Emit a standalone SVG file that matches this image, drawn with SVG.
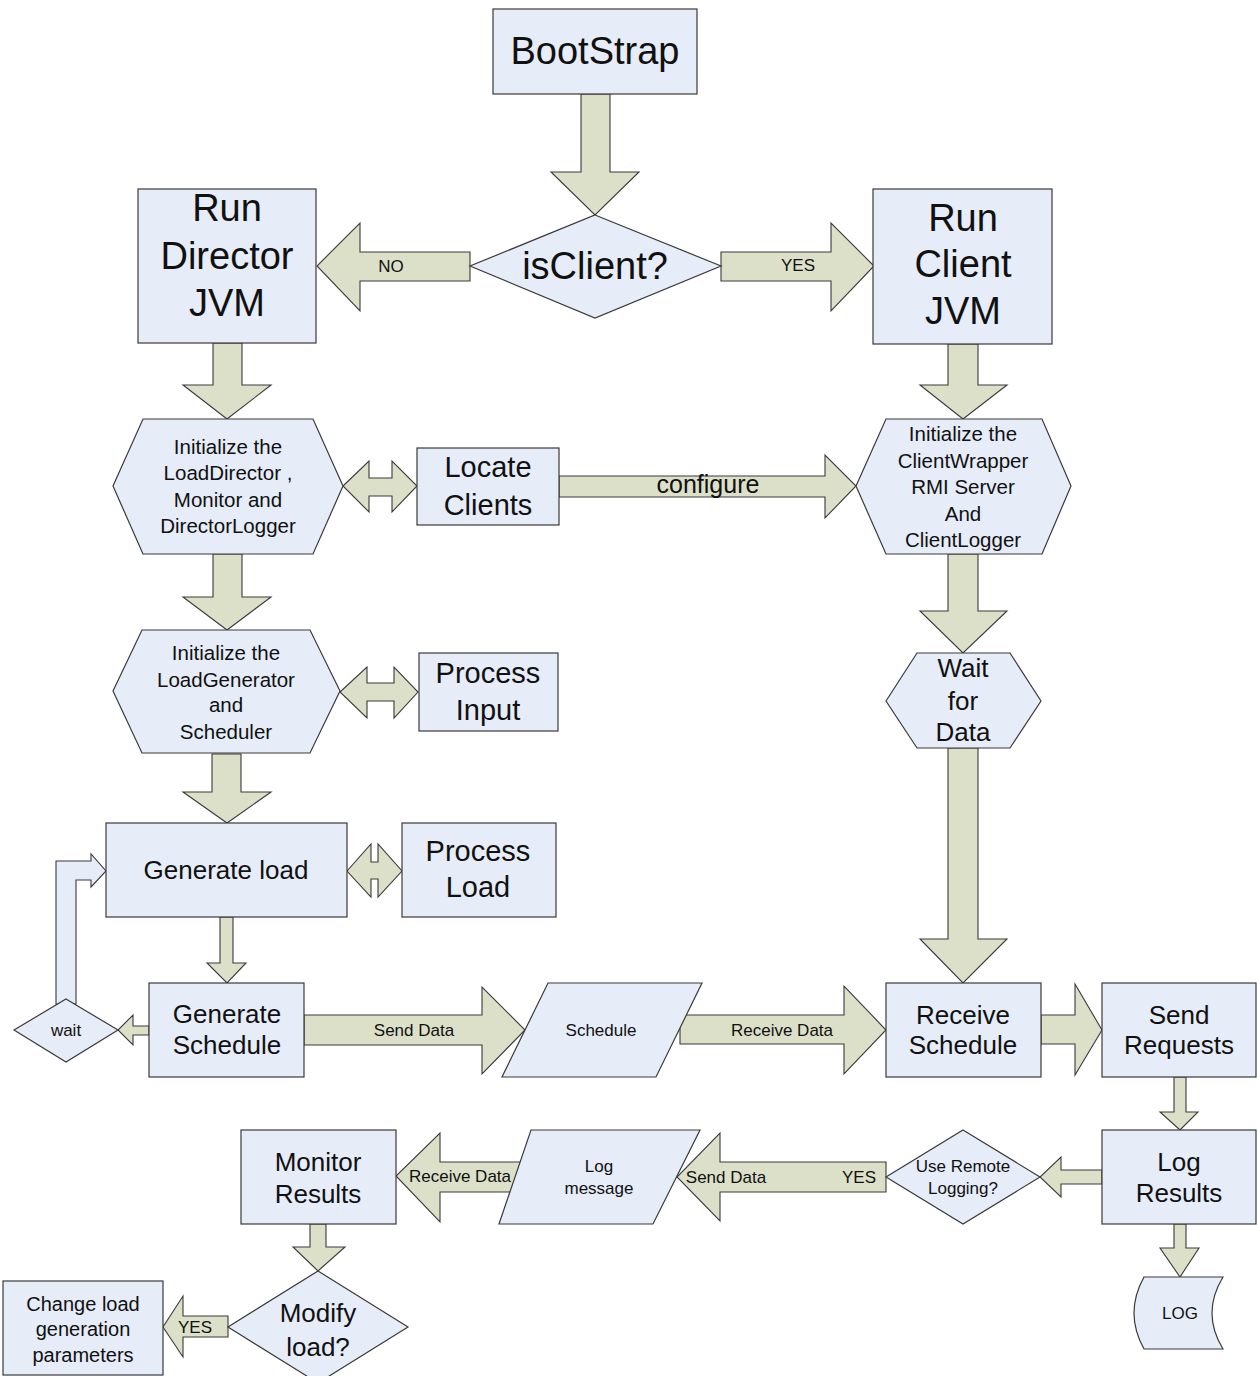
<svg xmlns="http://www.w3.org/2000/svg" width="1257" height="1376" viewBox="0 0 1257 1376">
  <style>
    .node { fill: #E6ECF8; stroke: #3a3a3a; stroke-width: 1.2; }
    .arrow { fill: #DCE0C9; stroke: #3a3a3a; stroke-width: 1.1; stroke-linejoin: miter; }
    .loop { fill: #E6ECF8; stroke: #3a3a3a; stroke-width: 1.1; }
    text { font-family: "Liberation Sans", Arial, sans-serif; fill: #111; text-anchor: middle; dominant-baseline: central; }
    .xl { font-size: 38px; }
    .l { font-size: 29px; }
    .m { font-size: 26px; }
    .hx { font-size: 20.5px; }
    .s { font-size: 17px; }
  </style>
  <rect width="1257" height="1376" fill="#ffffff"/>

  <!-- block arrows between steps -->
  <g id="connectors">
    <!-- BootStrap -> isClient? -->
    <polygon class="arrow" points="581,94 610,94 610,172 639,172 595,215 551,172 581,172"/>
    <!-- isClient? NO -> Run Director JVM -->
    <polygon class="arrow" points="470,252 360,252 360,223 317,266 360,311 360,281 470,281"/>
    <!-- isClient? YES -> Run Client JVM -->
    <polygon class="arrow" points="721,252 831,252 831,223 874,266 831,311 831,281 721,281"/>
    <!-- Run Director JVM -> init LoadDirector -->
    <polygon class="arrow" points="213,343 242,343 242,385 271,385 227,419 183,385 213,385"/>
    <!-- Run Client JVM -> init ClientWrapper -->
    <polygon class="arrow" points="948,344 978,344 978,385 1007,385 963,419 920,385 948,385"/>
    <!-- init LoadDirector <-> Locate Clients -->
    <polygon class="arrow" points="343,486 369,461 369,478 392,478 392,461 417,486 392,512 392,496 369,496 369,512"/>
    <!-- Locate Clients -> ClientWrapper (configure) -->
    <polygon class="arrow" points="559,476 825,476 825,455 856,486 825,518 825,497 559,497"/>
    <!-- init LoadDirector -> init LoadGenerator -->
    <polygon class="arrow" points="213,554 242,554 242,597 271,597 227,630 183,597 213,597"/>
    <!-- init ClientWrapper -> Wait for Data -->
    <polygon class="arrow" points="948,554 978,554 978,611 1007,611 963,653 920,611 948,611"/>
    <!-- init LoadGenerator <-> Process Input -->
    <polygon class="arrow" points="340,692 367,667 367,683 394,683 394,667 418,692 394,718 394,701 367,701 367,718"/>
    <!-- init LoadGenerator -> Generate load -->
    <polygon class="arrow" points="212,754 241,754 241,792 271,792 227,823 183,792 212,792"/>
    <!-- Generate load <-> Process Load -->
    <polygon class="arrow" points="347,871 371,844 371,862 378,862 378,844 402,871 378,897 378,879 371,879 371,897"/>
    <!-- Generate load -> Generate Schedule -->
    <polygon class="arrow" points="220,917 233,917 233,963 246,963 227,983 207,963 220,963"/>
    <!-- wait -> Generate load (loop back) -->
    <polygon class="loop" points="56,1004 56,861 91,861 91,854 106,871 91,887 91,880 76,880 76,1004"/>
    <!-- Generate Schedule -> wait -->
    <polygon class="arrow" points="149,1026 133,1026 133,1015 118,1030 133,1045 133,1035 149,1035"/>
    <!-- Generate Schedule -> Schedule (Send Data) -->
    <polygon class="arrow" points="304,1015 482,1015 482,987 525,1030 482,1074 482,1045 304,1045"/>
    <!-- Schedule -> Receive Schedule (Receive Data) -->
    <polygon class="arrow" points="680,1015 844,1015 844,986 886,1030 844,1074 844,1044 680,1044"/>
    <!-- Wait for Data -> Receive Schedule -->
    <polygon class="arrow" points="948,748 978,748 978,939 1007,939 963,983 920,939 948,939"/>
    <!-- Receive Schedule -> Send Requests -->
    <polygon class="arrow" points="1041,1015 1075,1015 1075,984 1102,1030 1075,1075 1075,1044 1041,1044"/>
    <!-- Send Requests -> Log Results -->
    <polygon class="arrow" points="1174,1077 1186,1077 1186,1112 1198,1112 1180,1130 1160,1112 1174,1112"/>
    <!-- Log Results -> Use Remote Logging? -->
    <polygon class="arrow" points="1102,1170 1061,1170 1061,1157 1040,1177 1061,1197 1061,1184 1102,1184"/>
    <!-- Use Remote Logging? YES -> Log message (Send Data) -->
    <polygon class="arrow" points="886,1162 720,1162 720,1133 677,1177 720,1221 720,1192 886,1192"/>
    <!-- Log message -> Monitor Results (Receive Data) -->
    <polygon class="arrow" points="522,1162 440,1162 440,1133 396,1176 440,1222 440,1192 522,1192"/>
    <!-- Log Results -> LOG -->
    <polygon class="arrow" points="1174,1224 1186,1224 1186,1248 1199,1248 1180,1277 1160,1248 1174,1248"/>
    <!-- Monitor Results -> Modify load? -->
    <polygon class="arrow" points="310,1224 326,1224 326,1247 345,1247 318,1271 293,1247 310,1247"/>
    <!-- Modify load? YES -> Change load generation parameters -->
    <polygon class="arrow" points="228,1316 183,1316 183,1296 163,1327 183,1357 183,1337 228,1337"/>

    <text class="s" x="391" y="266">NO</text>
    <text class="s" x="798" y="265">YES</text>
    <text x="708" y="484" style="font-size:25px">configure</text>
    <text class="s" x="414" y="1030">Send Data</text>
    <text class="s" x="782" y="1030">Receive Data</text>
    <text class="s" x="726" y="1177">Send Data</text>
    <text class="s" x="859" y="1177">YES</text>
    <text class="s" x="460" y="1176">Receive Data</text>
    <text class="s" x="195" y="1327">YES</text>
  </g>

  <g id="bootstrap">
    <rect class="node" x="493" y="9" width="204" height="85"/>
    <text class="xl" x="595" y="51">BootStrap</text>
  </g>

  <g id="is-client">
    <polygon class="node" points="595,215 721,266 595,318 470,266"/>
    <text class="xl" x="595" y="266">isClient?</text>
  </g>

  <g id="run-director">
    <rect class="node" x="138" y="189" width="178" height="154"/>
    <text class="xl" x="227" y="208">Run</text>
    <text class="xl" x="227" y="256">Director</text>
    <text class="xl" x="227" y="303">JVM</text>
  </g>

  <g id="run-client">
    <rect class="node" x="873" y="189" width="179" height="155"/>
    <text class="xl" x="963" y="218">Run</text>
    <text class="xl" x="963" y="264">Client</text>
    <text class="xl" x="963" y="311">JVM</text>
  </g>

  <g id="init-load-director">
    <polygon class="node" points="113,486 143,419 313,419 343,486 313,554 143,554"/>
    <text class="hx" x="228" y="446">Initialize the</text>
    <text class="hx" x="228" y="472">LoadDirector ,</text>
    <text class="hx" x="228" y="499">Monitor and</text>
    <text class="hx" x="228" y="525">DirectorLogger</text>
  </g>

  <g id="locate-clients">
    <rect class="node" x="417" y="448" width="142" height="77"/>
    <text class="l" x="488" y="467">Locate</text>
    <text class="l" x="488" y="505">Clients</text>
  </g>

  <g id="init-client-wrapper">
    <polygon class="node" points="856,486 886,419 1042,419 1071,486 1042,554 886,554"/>
    <text class="hx" x="963" y="433">Initialize the</text>
    <text class="hx" x="963" y="460">ClientWrapper</text>
    <text class="hx" x="963" y="486">RMI Server</text>
    <text class="hx" x="963" y="513">And</text>
    <text class="hx" x="963" y="539">ClientLogger</text>
  </g>

  <g id="init-load-generator">
    <polygon class="node" points="113,691 142,630 310,630 340,691 310,753 142,753"/>
    <text class="hx" x="226" y="652">Initialize the</text>
    <text class="hx" x="226" y="679">LoadGenerator</text>
    <text class="hx" x="226" y="704">and</text>
    <text class="hx" x="226" y="731">Scheduler</text>
  </g>

  <g id="process-input">
    <rect class="node" x="419" y="653" width="139" height="78"/>
    <text class="l" x="488" y="673">Process</text>
    <text class="l" x="488" y="710">Input</text>
  </g>

  <g id="wait-for-data">
    <polygon class="node" points="886,701 917,653 1010,653 1041,701 1010,748 917,748"/>
    <text class="m" x="963" y="668">Wait</text>
    <text class="m" x="963" y="701">for</text>
    <text class="m" x="963" y="732">Data</text>
  </g>

  <g id="generate-load">
    <rect class="node" x="106" y="823" width="241" height="94"/>
    <text class="m" x="226" y="870">Generate load</text>
  </g>

  <g id="process-load">
    <rect class="node" x="402" y="823" width="154" height="94"/>
    <text class="l" x="478" y="851">Process</text>
    <text class="l" x="478" y="887">Load</text>
  </g>

  <g id="generate-schedule">
    <rect class="node" x="149" y="983" width="155" height="94"/>
    <text class="m" x="227" y="1014">Generate</text>
    <text class="m" x="227" y="1045">Schedule</text>
  </g>

  <g id="wait">
    <polygon class="node" points="66,999 118,1030 66,1062 14,1030"/>
    <text class="s" x="66" y="1030">wait</text>
  </g>

  <g id="schedule">
    <polygon class="node" points="548,983 702,983 656,1077 502,1077"/>
    <text class="s" x="601" y="1030">Schedule</text>
  </g>

  <g id="receive-schedule">
    <rect class="node" x="886" y="983" width="155" height="94"/>
    <text class="m" x="963" y="1015">Receive</text>
    <text class="m" x="963" y="1045">Schedule</text>
  </g>

  <g id="send-requests">
    <rect class="node" x="1102" y="983" width="154" height="94"/>
    <text class="m" x="1179" y="1015">Send</text>
    <text class="m" x="1179" y="1045">Requests</text>
  </g>

  <g id="log-results">
    <rect class="node" x="1102" y="1130" width="154" height="94"/>
    <text class="m" x="1179" y="1162">Log</text>
    <text class="m" x="1179" y="1193">Results</text>
  </g>

  <g id="use-remote-logging">
    <polygon class="node" points="963,1130 1040,1177 963,1224 886,1177"/>
    <text class="s" x="963" y="1166">Use Remote</text>
    <text class="s" x="963" y="1188">Logging?</text>
  </g>

  <g id="log-message">
    <polygon class="node" points="531,1130 700,1130 653,1224 499,1224"/>
    <text class="s" x="599" y="1166">Log</text>
    <text class="s" x="599" y="1188">message</text>
  </g>

  <g id="monitor-results">
    <rect class="node" x="241" y="1130" width="155" height="94"/>
    <text class="m" x="318" y="1162">Monitor</text>
    <text class="m" x="318" y="1194">Results</text>
  </g>

  <g id="modify-load">
    <polygon class="node" points="318,1271 408,1327 318,1383 228,1327"/>
    <text class="m" x="318" y="1313">Modify</text>
    <text class="m" x="318" y="1347">load?</text>
  </g>

  <g id="change-load-parameters">
    <rect class="node" x="3" y="1281" width="160" height="94"/>
    <text x="83" y="1304" style="font-size:20px">Change load</text>
    <text x="83" y="1329" style="font-size:20px">generation</text>
    <text x="83" y="1355" style="font-size:20px">parameters</text>
  </g>

  <g id="log-store">
    <path class="node" d="M1144,1277 L1223,1277 Q1201,1313 1223,1349 L1144,1349 Q1124,1313 1144,1277 Z"/>
    <text class="s" x="1180" y="1313">LOG</text>
  </g>
</svg>
